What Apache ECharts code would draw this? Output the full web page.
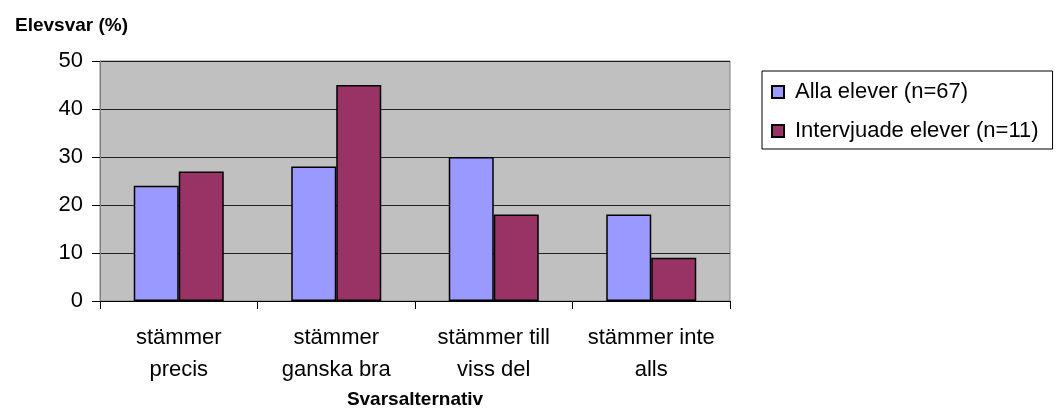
<!DOCTYPE html>
<html>
<head>
<meta charset="utf-8">
<script src="https://cdn.jsdelivr.net/npm/echarts@6/dist/echarts.min.js"></script>
<style>
  html, body { margin: 0; padding: 0; background: #fff; }
  #elevChart { width: 1056px; height: 411px; }
</style>
</head>
<body>
<div id="elevChart"></div>
<script>
  // svarsalternativ och andel elever (%)
  const categories = ['stämmer\nprecis', 'stämmer\nganska bra', 'stämmer till\nviss del', 'stämmer inte\nalls']
  const allaElever = [24, 28, 30, 18]
  const intervjuadeElever = [27, 45, 18, 9]
  const yTicks = [0, 10, 20, 30, 40, 50]

  const fontFam = '"Liberation Sans", Arial, sans-serif'

  const option = {
    animation: false,
    backgroundColor: '#fff',
    textStyle: { fontFamily: fontFam, color: '#000' },
    title: {
      text: 'Elevsvar (%)',
      left: 10,
      top: 11,
      textStyle: { fontFamily: fontFam, fontSize: 19, fontWeight: 'bold', color: '#000' }
    },
    legend: {
      orient: 'vertical',
      left: 762,
      top: 71,
      icon: 'rect',
      itemWidth: 12,
      itemHeight: 12,
      itemGap: 15,
      padding: [9, 14, 6, 9],
      borderColor: '#000',
      borderWidth: 1,
      textStyle: { fontFamily: fontFam, fontSize: 22, color: '#000', lineHeight: 24, padding: [0, 0, 0, 6] },
      data: ['Alla elever (n=67)', 'Intervjuade elever (n=11)']
    },
    grid: {
      left: 100,
      right: 326,
      top: 61,
      bottom: 110,
      outerBoundsMode: 'none',
      show: true,
      backgroundColor: '#C0C0C0',
      borderColor: '#808080',
      borderWidth: 1
    },
    xAxis: {
      type: 'category',
      data: categories,
      name: 'Svarsalternativ',
      nameLocation: 'middle',
      nameGap: 89,
      nameMoveOverlap: false,
      nameTextStyle: { fontFamily: fontFam, fontSize: 19, fontWeight: 'bold', color: '#000' },
      axisLine: { lineStyle: { color: '#000', width: 1 } },
      axisTick: { show: true, length: 8, lineStyle: { color: '#000' } },
      axisLabel: { fontFamily: fontFam, fontSize: 22, color: '#000', lineHeight: 32, margin: 21, interval: 0 }
    },
    yAxis: {
      type: 'value',
      min: yTicks[0],
      max: yTicks[yTicks.length - 1],
      interval: 10,
      axisLine: { show: true, lineStyle: { color: '#808080' } },
      axisTick: { show: true, length: 8, lineStyle: { color: '#000' } },
      axisLabel: { fontFamily: fontFam, fontSize: 22, color: '#000', margin: 17 },
      splitLine: { show: true, lineStyle: { color: '#222', width: 1 } }
    },
    series: [
      {
        name: 'Alla elever (n=67)',
        type: 'bar',
        data: allaElever,
        barWidth: 45,
        barGap: '0%',
        itemStyle: { color: '#9999FF', borderColor: '#000', borderWidth: 1.5 }
      },
      {
        name: 'Intervjuade elever (n=11)',
        type: 'bar',
        data: intervjuadeElever,
        barWidth: 45,
        barGap: '0%',
        itemStyle: { color: '#993366', borderColor: '#000', borderWidth: 1.5 }
      }
    ]
  }

  const elevChart = echarts.init(document.getElementById('elevChart'))
  elevChart.setOption(option)
  window.addEventListener('resize', () => elevChart.resize())
</script>
</body>
</html>
